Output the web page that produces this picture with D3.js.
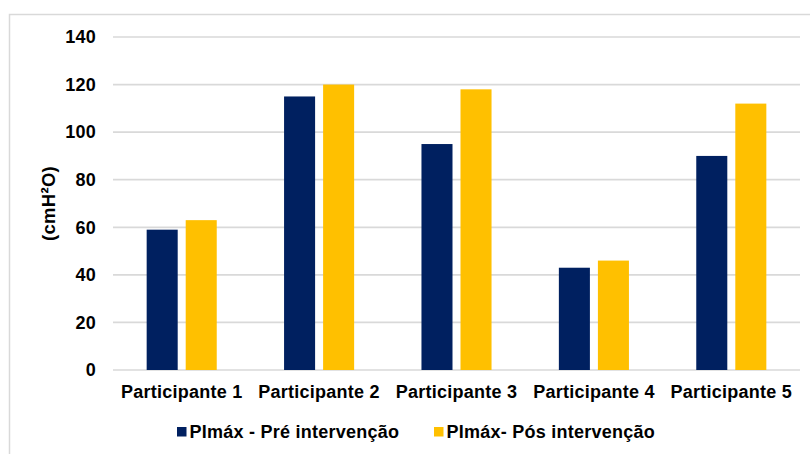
<!DOCTYPE html>
<html>
<head>
<meta charset="utf-8">
<script src="https://cdn.jsdelivr.net/npm/d3@7"></script>
<style>
html,body{margin:0;padding:0;background:#fff;}
text{font-family:"Liberation Sans",Arial,sans-serif;font-weight:bold;fill:#000;}
</style>
</head>
<body>
<svg id="chart" width="810" height="454"></svg>
<script>
const categories = ["Participante 1","Participante 2","Participante 3","Participante 4","Participante 5"];
const seriesNames = ["PImáx - Pré intervenção","PImáx- Pós intervenção"];
const preValues = [59,115,95,43,90];
const postValues = [63,120,118,46,112];
const yTicks = [0,20,40,60,80,100,120,140];
const yTitle = "(cmH²O)";
const colors = ["#002060","#FFC000"];

const svg = d3.select("#chart");
const plot = {left:113,right:800,top:37,bottom:370};
const FS = 18, LS = "0.25px";

svg.append("rect").attr("x",0).attr("y",0).attr("width",810).attr("height",454).attr("fill","#fff");
// outer chart border
svg.append("path").attr("d","M9.5,470 V14.5 H812").attr("fill","none").attr("stroke","#d9d9d9").attr("stroke-width",1.5);

const y = d3.scaleLinear().domain([0,140]).range([plot.bottom,plot.top]);
const x0 = d3.scaleBand().domain(categories).range([plot.left,plot.right]).paddingInner(0.49).paddingOuter(0.245);
const x1 = d3.scaleBand().domain(seriesNames).range([0,x0.bandwidth()]).paddingInner(0.205).paddingOuter(0);

// gridlines
svg.append("g").selectAll("line").data(yTicks).join("line")
  .attr("x1",plot.left).attr("x2",plot.right)
  .attr("y1",d=>y(d)).attr("y2",d=>y(d))
  .attr("stroke","#d9d9d9").attr("stroke-width",1.7);

// y axis labels
const yAxis = d3.axisLeft(y).tickValues(yTicks).tickSize(0).tickPadding(0);
const gy = svg.append("g").attr("transform","translate(96,0)").call(yAxis);
gy.select(".domain").remove();
gy.selectAll("text").attr("font-size",FS).attr("letter-spacing",LS).attr("fill","#000")
  .style("font-family","'Liberation Sans',Arial,sans-serif").style("font-weight","bold");

// bars
const data = categories.map((c,i)=>({cat:c, vals:[preValues[i],postValues[i]]}));
const groups = svg.append("g").selectAll("g").data(data).join("g")
  .attr("transform",d=>`translate(${x0(d.cat)},0)`);
groups.selectAll("rect").data(d=>d.vals.map((v,j)=>({s:seriesNames[j],v,j}))).join("rect")
  .attr("x",d=>x1(d.s)).attr("width",x1.bandwidth())
  .attr("y",d=>y(d.v)).attr("height",d=>y(0)-y(d.v))
  .attr("fill",d=>colors[d.j]);

// x axis labels
const xAxis = d3.axisBottom(x0).tickSize(0).tickPadding(0);
const gx = svg.append("g").attr("transform","translate(0,385.5)").call(xAxis);
gx.select(".domain").remove();
gx.selectAll("text").attr("font-size",FS).attr("letter-spacing",LS).attr("fill","#000").attr("dy","0.71em")
  .style("font-family","'Liberation Sans',Arial,sans-serif").style("font-weight","bold");

// y title
svg.append("text").attr("transform","translate(48,203.5) rotate(-90)")
  .attr("text-anchor","middle").attr("dominant-baseline","central")
  .attr("font-size",18.5).attr("letter-spacing","0.3px").text(yTitle);

// legend
const legendX = [177,434];
const leg = svg.append("g").selectAll("g").data(seriesNames).join("g")
  .attr("transform",(d,i)=>`translate(${legendX[i]},432)`);
leg.append("rect").attr("x",0).attr("y",-5).attr("width",9.5).attr("height",9.5).attr("fill",(d,i)=>colors[i]);
leg.append("text").attr("x",12.5).attr("y",6).attr("font-size",FS).attr("letter-spacing",LS).text(d=>d);
</script>
</body>
</html>
